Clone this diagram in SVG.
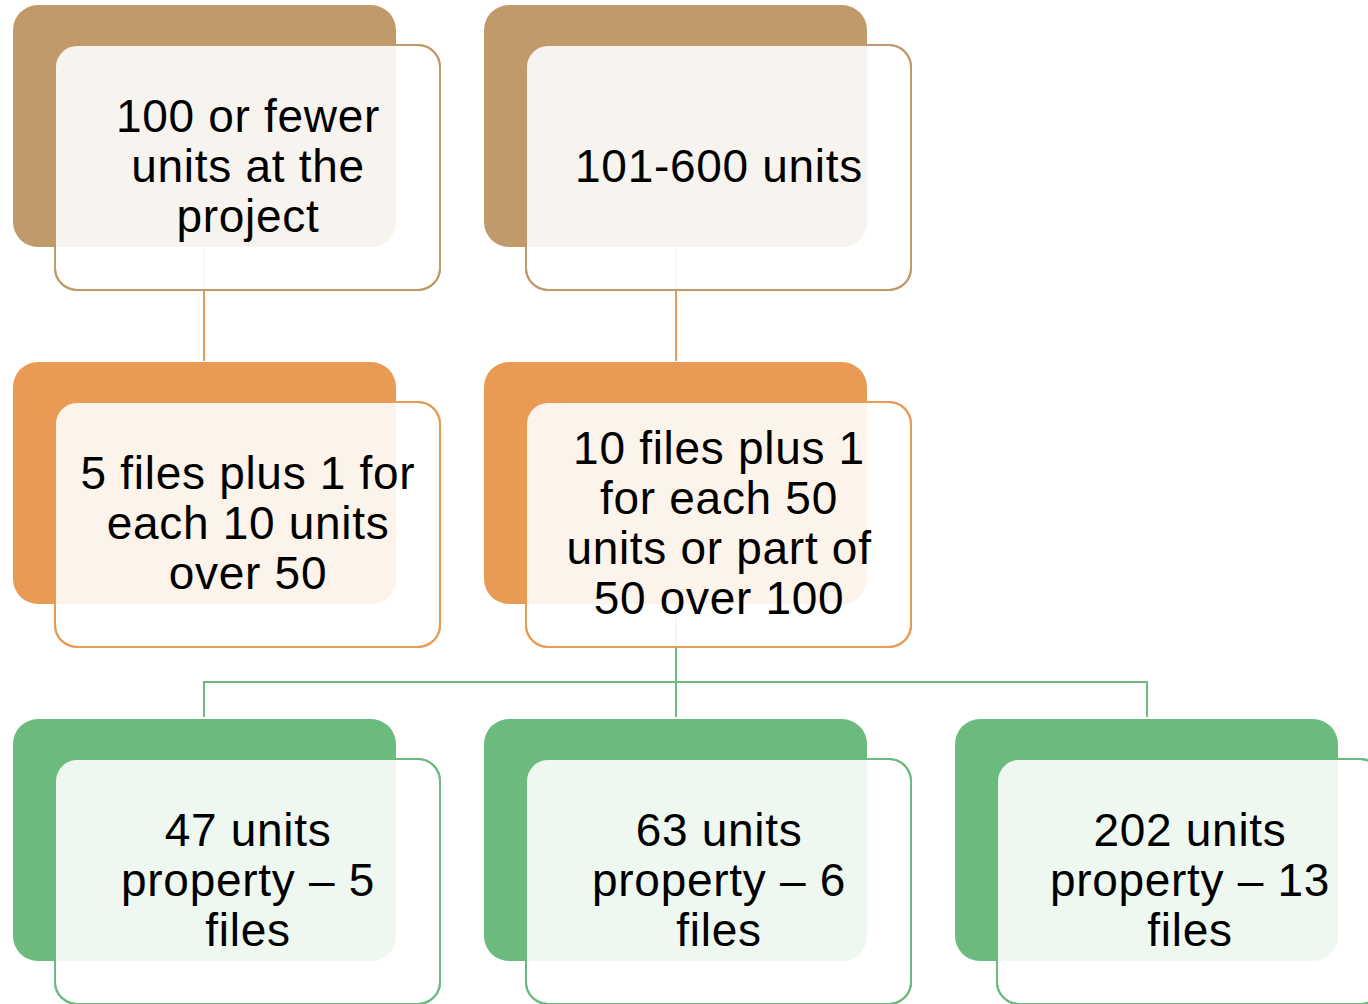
<svg xmlns="http://www.w3.org/2000/svg" width="1368" height="1004" viewBox="0 0 1368 1004">
<style>
.t{font-family:"Liberation Sans",Arial,sans-serif;font-size:46px;letter-spacing:0.7px;fill:#000;text-anchor:middle}
.cb{stroke:#E99B55;stroke-width:2;fill:none}
.cg{stroke:#6BBB7E;stroke-width:2;fill:none}
.brown .back{fill:#C19A6B}.brown .ov{fill:#F7F4EF}.brown .front{stroke:#C19A6B}
.orange .back{fill:#E99B55}.orange .ov{fill:#FCF3EA}.orange .front{stroke:#E99B55}
.green .back{fill:#6BBB7E}.green .ov{fill:#EEF7F0}.green .front{stroke:#6BBB7E}
.front{fill:#fff;fill-opacity:0.9;stroke-width:2}
</style>
<defs>
<rect id="bk" x="0" y="0" width="383" height="242" rx="25"/>
<path id="ovp" d="M42,62 A22,22 0 0 1 64,40 H383 V217 A25,25 0 0 1 358,242 H42 Z"/>
<rect id="fr" x="42" y="40" width="385" height="245" rx="22"/>
</defs>
<g id="connectors">
<line class="cb" x1="204" y1="249" x2="204" y2="361"/>
<line class="cb" x1="676" y1="249" x2="676" y2="361"/>
<line class="cg" x1="676" y1="617" x2="676" y2="717"/>
<polyline class="cg" points="204,717 204,682 1147,682 1147,717"/>
</g>
<g id="n1" class="brown" transform="translate(13,5)">
<use href="#bk" class="back"/><use href="#fr" class="front"/><use href="#ovp" class="ov"/>
<rect x="42" y="40" width="385" height="245" rx="22" class="front" style="fill:none"/>
<text class="t" x="235" y="127">100 or fewer</text>
<text class="t" x="235" y="177">units at the</text>
<text class="t" x="235" y="227">project</text>
</g>
<g id="n2" class="brown" transform="translate(484,5)">
<use href="#bk" class="back"/><use href="#fr" class="front"/><use href="#ovp" class="ov"/>
<rect x="42" y="40" width="385" height="245" rx="22" class="front" style="fill:none"/>
<text class="t" x="235" y="177">101-600 units</text>
</g>
<g id="n3" class="orange" transform="translate(13,362)">
<use href="#bk" class="back"/><use href="#fr" class="front"/><use href="#ovp" class="ov"/>
<rect x="42" y="40" width="385" height="245" rx="22" class="front" style="fill:none"/>
<text class="t" x="235" y="127">5 files plus 1 for</text>
<text class="t" x="235" y="177">each 10 units</text>
<text class="t" x="235" y="227">over 50</text>
</g>
<g id="n4" class="orange" transform="translate(484,362)">
<use href="#bk" class="back"/><use href="#fr" class="front"/><use href="#ovp" class="ov"/>
<rect x="42" y="40" width="385" height="245" rx="22" class="front" style="fill:none"/>
<text class="t" x="235" y="102">10 files plus 1</text>
<text class="t" x="235" y="152">for each 50</text>
<text class="t" x="235" y="202">units or part of</text>
<text class="t" x="235" y="252">50 over 100</text>
</g>
<g id="n5" class="green" transform="translate(13,719)">
<use href="#bk" class="back"/><use href="#fr" class="front"/><use href="#ovp" class="ov"/>
<rect x="42" y="40" width="385" height="245" rx="22" class="front" style="fill:none"/>
<text class="t" x="235" y="127">47 units</text>
<text class="t" x="235" y="177">property – 5</text>
<text class="t" x="235" y="227">files</text>
</g>
<g id="n6" class="green" transform="translate(484,719)">
<use href="#bk" class="back"/><use href="#fr" class="front"/><use href="#ovp" class="ov"/>
<rect x="42" y="40" width="385" height="245" rx="22" class="front" style="fill:none"/>
<text class="t" x="235" y="127">63 units</text>
<text class="t" x="235" y="177">property – 6</text>
<text class="t" x="235" y="227">files</text>
</g>
<g id="n7" class="green" transform="translate(955,719)">
<use href="#bk" class="back"/><use href="#fr" class="front"/><use href="#ovp" class="ov"/>
<rect x="42" y="40" width="385" height="245" rx="22" class="front" style="fill:none"/>
<text class="t" x="235" y="127">202 units</text>
<text class="t" x="235" y="177">property – 13</text>
<text class="t" x="235" y="227">files</text>
</g>
</svg>
